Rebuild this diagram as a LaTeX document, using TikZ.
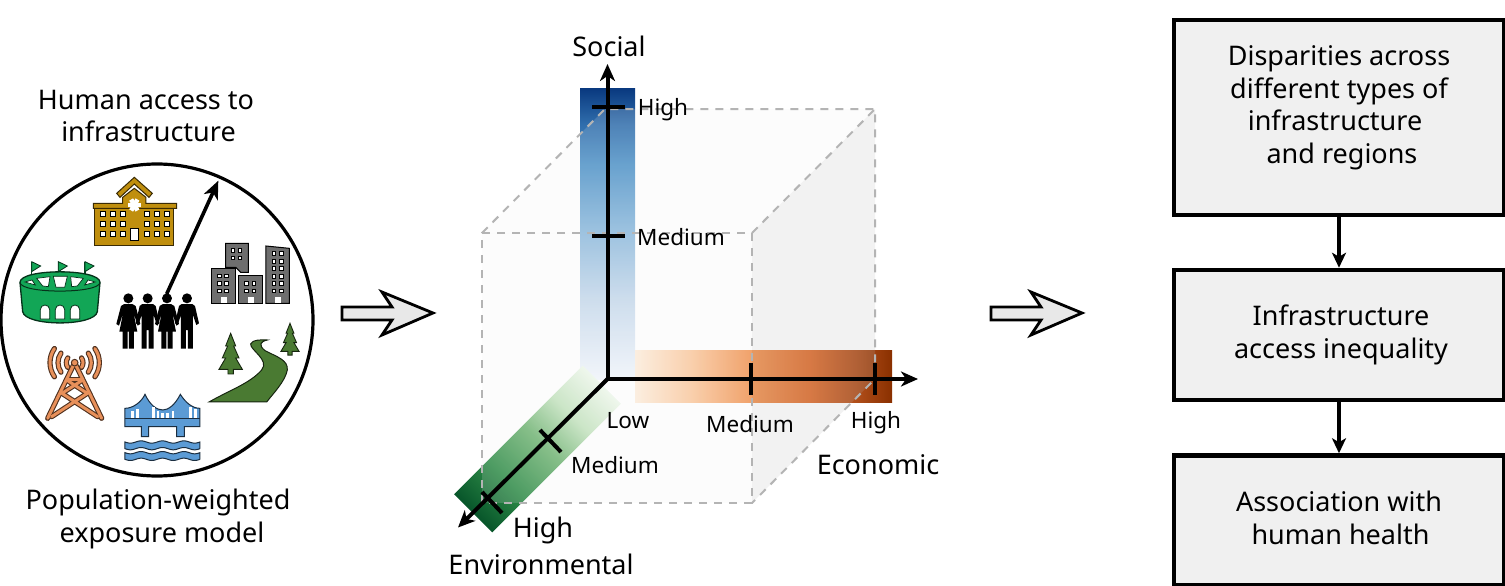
\documentclass[tikz,border=0pt]{standalone}
\usepackage{fontspec}
\setmainfont{Noto Sans}
\usetikzlibrary{arrows.meta,positioning}
\definecolor{hospc}{HTML}{C08F0E}
\definecolor{stadc}{HTML}{12A656}
\definecolor{cityc}{HTML}{6E6E6E}
\definecolor{greenc}{HTML}{4A7A32}
\definecolor{towerc}{HTML}{E8905A}
\definecolor{bridgec}{HTML}{5B9BD5}
\definecolor{dashc}{HTML}{B4B4B4}
\definecolor{boxc}{HTML}{F0F0F0}
\definecolor{blA}{HTML}{0A3A80}\definecolor{blB}{HTML}{2F6DAC}\definecolor{blC}{HTML}{4F93C8}
\definecolor{blD}{HTML}{8AB8DC}\definecolor{blE}{HTML}{C6D9EC}\definecolor{blF}{HTML}{F2F6FC}
\definecolor{orA}{HTML}{FDEEDD}\definecolor{orB}{HTML}{FBC99F}\definecolor{orC}{HTML}{F0914F}
\definecolor{orD}{HTML}{DE6C2C}\definecolor{orE}{HTML}{B04E1A}\definecolor{orF}{HTML}{8A3000}
\definecolor{grA}{HTML}{EFF8EC}\definecolor{grB}{HTML}{C4E3BF}\definecolor{grC}{HTML}{72B575}
\definecolor{grD}{HTML}{2F8C48}\definecolor{grE}{HTML}{07552A}
\pgfdeclareverticalshading{blueaxis}{100bp}{color(0bp)=(blF);color(25bp)=(blF);color(39bp)=(blE);color(51bp)=(blD);color(62bp)=(blC);color(69bp)=(blB);color(75bp)=(blA);color(100bp)=(blA)}
\pgfdeclarehorizontalshading{orangeaxis}{100bp}{color(0bp)=(orA);color(25bp)=(orA);color(36bp)=(orB);color(48bp)=(orC);color(59bp)=(orD);color(68bp)=(orE);color(75bp)=(orF);color(100bp)=(orF)}
\pgfdeclarehorizontalshading{greenaxis}{100bp}{color(0bp)=(grA);color(25bp)=(grA);color(37bp)=(grB);color(48bp)=(grC);color(62bp)=(grD);color(75bp)=(grE);color(100bp)=(grE)}
\tikzset{
  axisline/.style={line width=4pt,-{Stealth[length=17pt,width=15pt,inset=5pt]}},
  flowline/.style={line width=4pt,-{Stealth[length=15pt,width=14pt,inset=4pt]}},
  tickmark/.style={line width=4pt},
  cubeedge/.style={dashc,line width=2pt,dash pattern=on 8pt off 7pt},
  mainlabel/.style={font=\fontsize{27}{32.5}\selectfont,align=center,inner sep=0pt},
  smalllabel/.style={font=\fontsize{22.5}{28}\selectfont,inner sep=0pt},
  stagebox/.style={draw=black,fill=boxc,line width=4.5pt,inner sep=0pt},
  hollowarrow/.style={draw=black,fill=black!9,line width=2.8pt,line join=miter},
  icons/.style={shift={(0,160)},x=.33333pt,y=-.33333pt},
}
\begin{document}
\begin{tikzpicture}[x=1pt,y=-1pt]
\fill[white] (0,0) rectangle (1505,586);
\useasboundingbox (0,0) rectangle (1505,586);
%% left text
\node[mainlabel] (title) at (146,116) {Human access to\\\hbox to 5pt{}infrastructure};
\node[mainlabel] (model) at (158,519) {Population-weighted\\\hbox to 8pt{}exposure model};
%% circle
\node[draw=black,line width=3.2pt,circle,minimum size=312pt,inner sep=0pt] (ring) at (157,320) {};
\begin{scope}[icons]
 % hospital
 \begin{scope}[draw=black!70!hospc,line width=1pt]
 \filldraw[fill=hospc,line width=1pt] (285,145)--(520,145)--(520,255)--(285,255)--cycle;
 \filldraw[fill=hospc] (280,130)--(368,130)--(368,112)--(403,85)--(438,112)--(438,130)--(530,130)--(530,145)--(280,145)--cycle;
 \filldraw[fill=hospc] (350,100)--(403,52)--(457,100)--(447,112)--(403,72)--(360,112)--cycle;
 \end{scope}
 \foreach \x in {300,330,360,432,462,492}\foreach \y in {154,184,214}
   \filldraw[fill=white,draw=black,line width=.8pt] (\x,\y) rectangle +(16,16);
 \filldraw[fill=white,draw=black,line width=.8pt] (392,205) rectangle (414,242);
 \foreach \a in {0,60,120} \draw[white,line width=4.5pt] (403,135)++(\a:19)--++(\a+180:38);
 % stadium
 \foreach \x in {95,175,255}{
   \draw[black!60!stadc,line width=1.6pt] (\x,350)--(\x,305);
   \filldraw[fill=stadc,draw=black!70!stadc,line width=.8pt] (\x,305)--(\x+27,318)--(\x,335)--cycle;}
 \filldraw[fill=stadc,draw=black!70!stadc,line width=1.3pt] (60,367) .. controls (60,325) and (300,325) .. (300,367)
   -- (292,455) .. controls (285,500) and (75,500) .. (68,455) -- cycle;
 \draw[black!70!stadc,line width=1pt] (60,367) .. controls (60,402) and (300,402) .. (300,367);
 \filldraw[fill=white,draw=black!70!stadc,line width=.7pt] (75,366)--(96,360)--(106,375)--cycle;
 \filldraw[fill=white,draw=black!70!stadc,line width=.7pt] (110,355)--(150,350)--(145,380)--(128,378)--cycle;
 \filldraw[fill=white,draw=black!70!stadc,line width=.7pt] (160,349)--(202,349)--(194,382)--(168,382)--cycle;
 \filldraw[fill=white,draw=black!70!stadc,line width=.7pt] (212,350)--(250,355)--(232,378)--(215,380)--cycle;
 \filldraw[fill=white,draw=black!70!stadc,line width=.7pt] (286,366)--(264,360)--(254,375)--cycle;
 \foreach \x in {135,180,225}
   \filldraw[fill=white,draw=black!70!stadc,line width=.8pt] (\x-14,477)--(\x-14,449) arc[start angle=180,end angle=360,radius=14]--(\x+14,477)--cycle;
 % city
 \begin{scope}[fill=cityc,draw=black,line width=1pt]
 \filldraw (677,250)--(745,250)--(745,337)--(722,337)--(707,322)--(677,322)--cycle;
 \filldraw (635,325)--(707,325)--(707,430)--(635,430)--cycle;
 \filldraw (717,347)--(787,347)--(787,430)--(717,430)--cycle;
 \filldraw (798,258)--(868,265)--(868,430)--(798,430)--cycle;
 \end{scope}
 \foreach \x/\y in {693/266,714/266,693/288,714/288,652/342,674/342,652/364,674/364,652/387,674/387,734/364,756/364,734/387,756/387}
   \filldraw[fill=white,draw=black,line width=.6pt] (\x,\y) rectangle +(11,11);
 \foreach \x in {816,838}\foreach \y in {275,298,320,343,365,387}
   \filldraw[fill=white,draw=black,line width=.6pt] (\x,\y) rectangle +(11,11);
 \foreach \x in {662,743,825} \fill[white] (\x,412) rectangle +(18,18);
 % river and trees
 \filldraw[fill=greenc,draw=black!70!greenc,line width=1pt] (627,726) .. controls (690,690) and (750,670) .. (785,630)
   .. controls (810,600) and (750,570) .. (752,552) .. controls (755,540) and (785,538) .. (802,540)
   .. controls (780,545) and (775,555) .. (795,572) .. controls (830,590) and (865,600) .. (862,630)
   .. controls (855,665) and (820,700) .. (800,726) -- cycle;
 \foreach \x/\y/\s in {692/520/1,870/490/.78}{
   \filldraw[fill=greenc,draw=black!70!greenc,line width=.9pt,shift={(\x,\y)},scale=\s]
     (0,0)--(15,38)--(9,38)--(25,74)--(15,74)--(35,108)--(8,108)--(8,122)--(-8,122)--(-8,108)--(-35,108)--(-15,74)--(-25,74)--(-9,38)--(-15,38)--cycle;}
 % tower
 \foreach \c/\w in {black!65!towerc/5.2pt,towerc/3pt}{
  \begin{scope}[draw=\c,line width=\w,line cap=round]
   \draw (224,608)--(143,775) (224,608)--(305,775);
   \draw (200,660)--(262,700)--(155,770) (248,660)--(186,700)--(293,770);
   \draw (200,660)--(248,660);
   \foreach \r in {25,50,74}{
     \draw (224,608)++(35:\r) arc[start angle=35,end angle=-35,radius=\r];
     \draw (224,608)++(145:\r) arc[start angle=145,end angle=215,radius=\r];}
  \end{scope}}
 \filldraw[fill=towerc,draw=black!65!towerc,line width=1pt] (224,608) circle (10);
 % bridge
 \filldraw[fill=bridgec,draw=black!70!bridgec,line width=1pt] (375,745) .. controls (400,745) and (425,725) .. (435,703)
   .. controls (450,735) and (470,750) .. (488,750) .. controls (505,750) and (525,735) .. (541,703)
   .. controls (555,725) and (575,745) .. (600,745) -- (600,800) -- (553,800) -- (553,830) -- (530,830) -- (530,800) -- (446,800) -- (446,830) -- (424,830) -- (424,800) -- (375,800) -- cycle;
 \foreach \x/\t in {394/752,408/746,456/742,470/754,484/758,498/758,515/752,568/742,582/748}
   \fill[white] (\x,\t) rectangle +(8,776-\t);
 \draw[black!70!bridgec,line width=.7pt] (375,776)--(600,776);
 \foreach \y in {846,878}{
  \filldraw[fill=bridgec,draw=black!70!bridgec,line width=1pt] (375,\y) -- plot[domain=375:600,samples=40] (\x,{\y+3.5*sin((\x-375)*5.6)}) -- (600,\y+20) -- plot[domain=600:375,samples=40] (\x,{\y+20+3.5*sin((\x-375)*5.6)}) -- cycle;}
 \coordinate (crowdtop) at (500,402);
 \coordinate (reach) at (655,62);
 % people
 \foreach \cx/\kind in {385/0,443/1,501/0,561/1}{
   \fill[black] (\cx,415) circle (15);
   \ifnum\kind=0
   \fill[black,shift={(\cx,0)}] (-12,432)--(12,432)--(22,438)--(36,492)--(28,497)--(16,460)--(27,515)--(17,515)--(17,566)--(2,566)--(2,515)--(-2,515)--(-2,566)--(-17,566)--(-17,515)--(-27,515)--(-16,460)--(-28,497)--(-36,492)--(-22,438)--cycle;
   \else
   \fill[black,shift={(\cx,0)}] (-16,432)--(16,432)--(24,438)--(36,490)--(28,495)--(18,465)--(18,566)--(3,566)--(3,510)--(-3,510)--(-3,566)--(-18,566)--(-18,465)--(-28,495)--(-36,490)--(-24,438)--cycle;
   \fi}
\end{scope}
\draw[line width=3.6pt,-{Stealth[length=18pt,width=15pt,inset=5pt]}] (crowdtop)--(reach);
%% process arrows
\foreach \dx/\nm in {0/hollowA,649/hollowB}{
 \begin{scope}[shift={(\dx,0)}]
 \filldraw[hollowarrow] (342,307)--(392,307)--(382,292)--(433,313)--(382,335)--(392,320)--(342,320)--cycle;
 \end{scope}}
%% bars
\shade[shading=blueaxis] (580,89) rectangle (635,379);
\shade[shading=orangeaxis] (635,350) rectangle (892,402);
\begin{scope}[transform canvas={shift={(607.5,379)},rotate=225}]
 \shade[shading=greenaxis,x=1pt,y=1pt] (8,-27) rectangle (190,27);
\end{scope}
%% cube faces
\fill[black!5,opacity=.16] (482,233)--(752,233)--(752,503)--(482,503)--cycle;
\fill[black!5,opacity=.16] (482,233)--(605,109)--(875,109)--(752,233)--cycle;
\fill[black!28,opacity=.18] (752,233)--(875,109)--(875,379)--(752,503)--cycle;
\draw[cubeedge] (482,503)--(482,233)--(752,233)--(752,503)--(482,503);
\draw[cubeedge] (482,233)--(605,109)--(875,109)--(875,379)--(752,503);
\draw[cubeedge] (752,233)--(875,109);
%% axes
\coordinate (origin) at (607.5,379);
\coordinate (socialtip) at (607.5,64);
\coordinate (econtip) at (918,379);
\coordinate (envtip) at (458,527.5);
\draw[axisline] (origin)--(socialtip);
\draw[axisline] (origin)--(econtip);
\draw[axisline] (origin)--(envtip);
\draw[tickmark] (592,107)--(625,107);
\draw[tickmark] (592,236)--(625,236);
\draw[tickmark] (751,363)--(751,395);
\draw[tickmark] (875,363)--(875,395);
\draw[tickmark] (540,430)--(561,452);
\draw[tickmark] (482,492)--(502,513);
%% labels
\node[mainlabel] (social) at (609,46) {Social};
\node[mainlabel] (econ) at (878,465) {Economic};
\node[mainlabel] (envi) at (541,564) {Environmental};
\node[smalllabel] (shigh) at (663,110) {High};
\node[smalllabel] (smed) at (681,237) {Medium};
\node[smalllabel] (low) at (628,421) {Low};
\node[smalllabel] (emed) at (750,424) {Medium};
\node[smalllabel] (ehigh) at (876,423) {High};
\node[smalllabel] (nmed) at (615,465) {Medium};
\node[mainlabel] (nhigh) at (543,530) {High};
%% boxes
\node[stagebox,minimum width=330pt,minimum height=195pt] (boxa) at (1339,117.5) {};
\node[stagebox,minimum width=330pt,minimum height=130pt] (boxb) at (1339,335) {};
\node[stagebox,minimum width=330pt,minimum height=130pt] (boxc) at (1339,520.5) {};
\node[mainlabel] (texta) at (1339,108) {Disparities across\\different types of\\infrastructure\hbox to 8pt{}\\\hbox to 6pt{}and regions};
\node[mainlabel] (textb) at (1341,335) {Infrastructure\\access inequality};
\node[mainlabel] (textc) at (1339,518) {Association with\\\hbox to 3pt{}human health};
\draw[flowline] (boxa.south)--(boxb.north);
\draw[flowline] (boxb.south)--(boxc.north);
\end{tikzpicture}
\end{document}
